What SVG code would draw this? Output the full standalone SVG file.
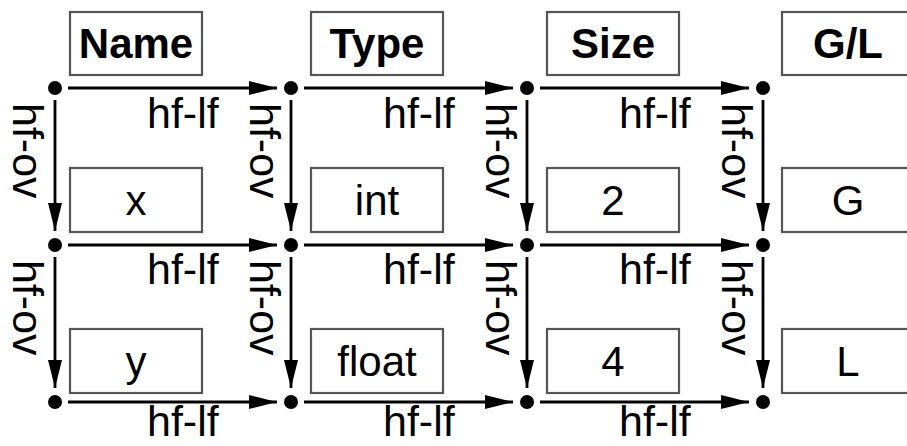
<svg xmlns="http://www.w3.org/2000/svg" width="907" height="446" viewBox="0 0 907 446">
  <style>
    .box { fill: #fff; stroke: #555; stroke-width: 2.2; }
    .hdr { font-family: "Liberation Sans", Arial, sans-serif; font-weight: bold; font-size: 42px; text-anchor: middle; fill: #000; }
    .val { font-family: "Liberation Sans", Arial, sans-serif; font-size: 42px; text-anchor: middle; fill: #000; }
    .lbl { font-family: "Liberation Sans", Arial, sans-serif; font-size: 43px; fill: #000; }
    .edge { stroke: #000; stroke-width: 2.8; fill: none; marker-end: url(#arrow); }
    .dot { fill: #000; }
  </style>
  <defs>
    <marker id="arrow" markerUnits="userSpaceOnUse" markerWidth="28" markerHeight="15" refX="28" refY="7.5" orient="auto">
      <path d="M0,0.5 L28,7.5 L0,14.5 Z" fill="#000"/>
    </marker>
  </defs>
  <rect width="907" height="446" fill="#fff"/>

  <!-- column headers -->
  <g id="hdr-name"><rect class="box" x="70" y="12" width="132" height="63"/><text class="hdr" x="136" y="58">Name</text></g>
  <g id="hdr-type"><rect class="box" x="311" y="12" width="132" height="63"/><text class="hdr" x="377" y="58">Type</text></g>
  <g id="hdr-size"><rect class="box" x="547" y="12" width="132" height="63"/><text class="hdr" x="613" y="58">Size</text></g>
  <g id="hdr-gl"><rect class="box" x="782" y="12" width="132" height="63"/><text class="hdr" x="848" y="58">G/L</text></g>

  <!-- row 1 values -->
  <g id="val-x"><rect class="box" x="70" y="168" width="132" height="64"/><text class="val" x="136" y="215">x</text></g>
  <g id="val-int"><rect class="box" x="311" y="168" width="132" height="64"/><text class="val" x="377" y="215">int</text></g>
  <g id="val-2"><rect class="box" x="547" y="168" width="132" height="64"/><text class="val" x="613" y="215">2</text></g>
  <g id="val-g"><rect class="box" x="782" y="168" width="132" height="64"/><text class="val" x="848" y="215">G</text></g>

  <!-- row 2 values -->
  <g id="val-y"><rect class="box" x="70" y="329" width="132" height="64"/><text class="val" x="136" y="376">y</text></g>
  <g id="val-float"><rect class="box" x="311" y="329" width="132" height="64"/><text class="val" x="377" y="376">float</text></g>
  <g id="val-4"><rect class="box" x="547" y="329" width="132" height="64"/><text class="val" x="613" y="376">4</text></g>
  <g id="val-l"><rect class="box" x="782" y="329" width="132" height="64"/><text class="val" x="848" y="376">L</text></g>

  <!-- connectors: hf-lf across, hf-ov down -->
  <g id="connectors">
    <!-- row 0 -->
    <line class="edge" x1="68" y1="88" x2="277" y2="88"/>
    <line class="edge" x1="304" y1="88" x2="513" y2="88"/>
    <line class="edge" x1="540" y1="88" x2="749" y2="88"/>
    <!-- row 1 -->
    <line class="edge" x1="68" y1="245" x2="277" y2="245"/>
    <line class="edge" x1="304" y1="245" x2="513" y2="245"/>
    <line class="edge" x1="540" y1="245" x2="749" y2="245"/>
    <!-- row 2 -->
    <line class="edge" x1="68" y1="402" x2="277" y2="402"/>
    <line class="edge" x1="304" y1="402" x2="513" y2="402"/>
    <line class="edge" x1="540" y1="402" x2="749" y2="402"/>
    <!-- verticals 0 to 1 -->
    <line class="edge" x1="55" y1="100" x2="55" y2="231"/>
    <line class="edge" x1="291" y1="100" x2="291" y2="231"/>
    <line class="edge" x1="527" y1="100" x2="527" y2="231"/>
    <line class="edge" x1="763" y1="100" x2="763" y2="231"/>
    <!-- verticals 1 to 2 -->
    <line class="edge" x1="55" y1="257" x2="55" y2="388"/>
    <line class="edge" x1="291" y1="257" x2="291" y2="388"/>
    <line class="edge" x1="527" y1="257" x2="527" y2="388"/>
    <line class="edge" x1="763" y1="257" x2="763" y2="388"/>

    <!-- edge labels -->
    <text class="lbl" x="147" y="128">hf-lf</text>
    <text class="lbl" x="383" y="128">hf-lf</text>
    <text class="lbl" x="619" y="128">hf-lf</text>
    <text class="lbl" x="147" y="284">hf-lf</text>
    <text class="lbl" x="383" y="284">hf-lf</text>
    <text class="lbl" x="619" y="284">hf-lf</text>
    <text class="lbl" x="147" y="436">hf-lf</text>
    <text class="lbl" x="383" y="436">hf-lf</text>
    <text class="lbl" x="619" y="436">hf-lf</text>

    <text class="lbl" transform="translate(13,103) rotate(90)">hf-ov</text>
    <text class="lbl" transform="translate(250,103) rotate(90)">hf-ov</text>
    <text class="lbl" transform="translate(486,103) rotate(90)">hf-ov</text>
    <text class="lbl" transform="translate(722,103) rotate(90)">hf-ov</text>
    <text class="lbl" transform="translate(13,260) rotate(90)">hf-ov</text>
    <text class="lbl" transform="translate(250,260) rotate(90)">hf-ov</text>
    <text class="lbl" transform="translate(486,260) rotate(90)">hf-ov</text>
    <text class="lbl" transform="translate(722,260) rotate(90)">hf-ov</text>
  </g>

  <!-- junction points -->
  <g id="p00"><circle class="dot" cx="55" cy="88" r="7"/></g>
  <g id="p01"><circle class="dot" cx="291" cy="88" r="7"/></g>
  <g id="p02"><circle class="dot" cx="527" cy="88" r="7"/></g>
  <g id="p03"><circle class="dot" cx="763" cy="88" r="7"/></g>
  <g id="p10"><circle class="dot" cx="55" cy="245" r="7"/></g>
  <g id="p11"><circle class="dot" cx="291" cy="245" r="7"/></g>
  <g id="p12"><circle class="dot" cx="527" cy="245" r="7"/></g>
  <g id="p13"><circle class="dot" cx="763" cy="245" r="7"/></g>
  <g id="p20"><circle class="dot" cx="55" cy="402" r="7"/></g>
  <g id="p21"><circle class="dot" cx="291" cy="402" r="7"/></g>
  <g id="p22"><circle class="dot" cx="527" cy="402" r="7"/></g>
  <g id="p23"><circle class="dot" cx="763" cy="402" r="7"/></g>
</svg>
